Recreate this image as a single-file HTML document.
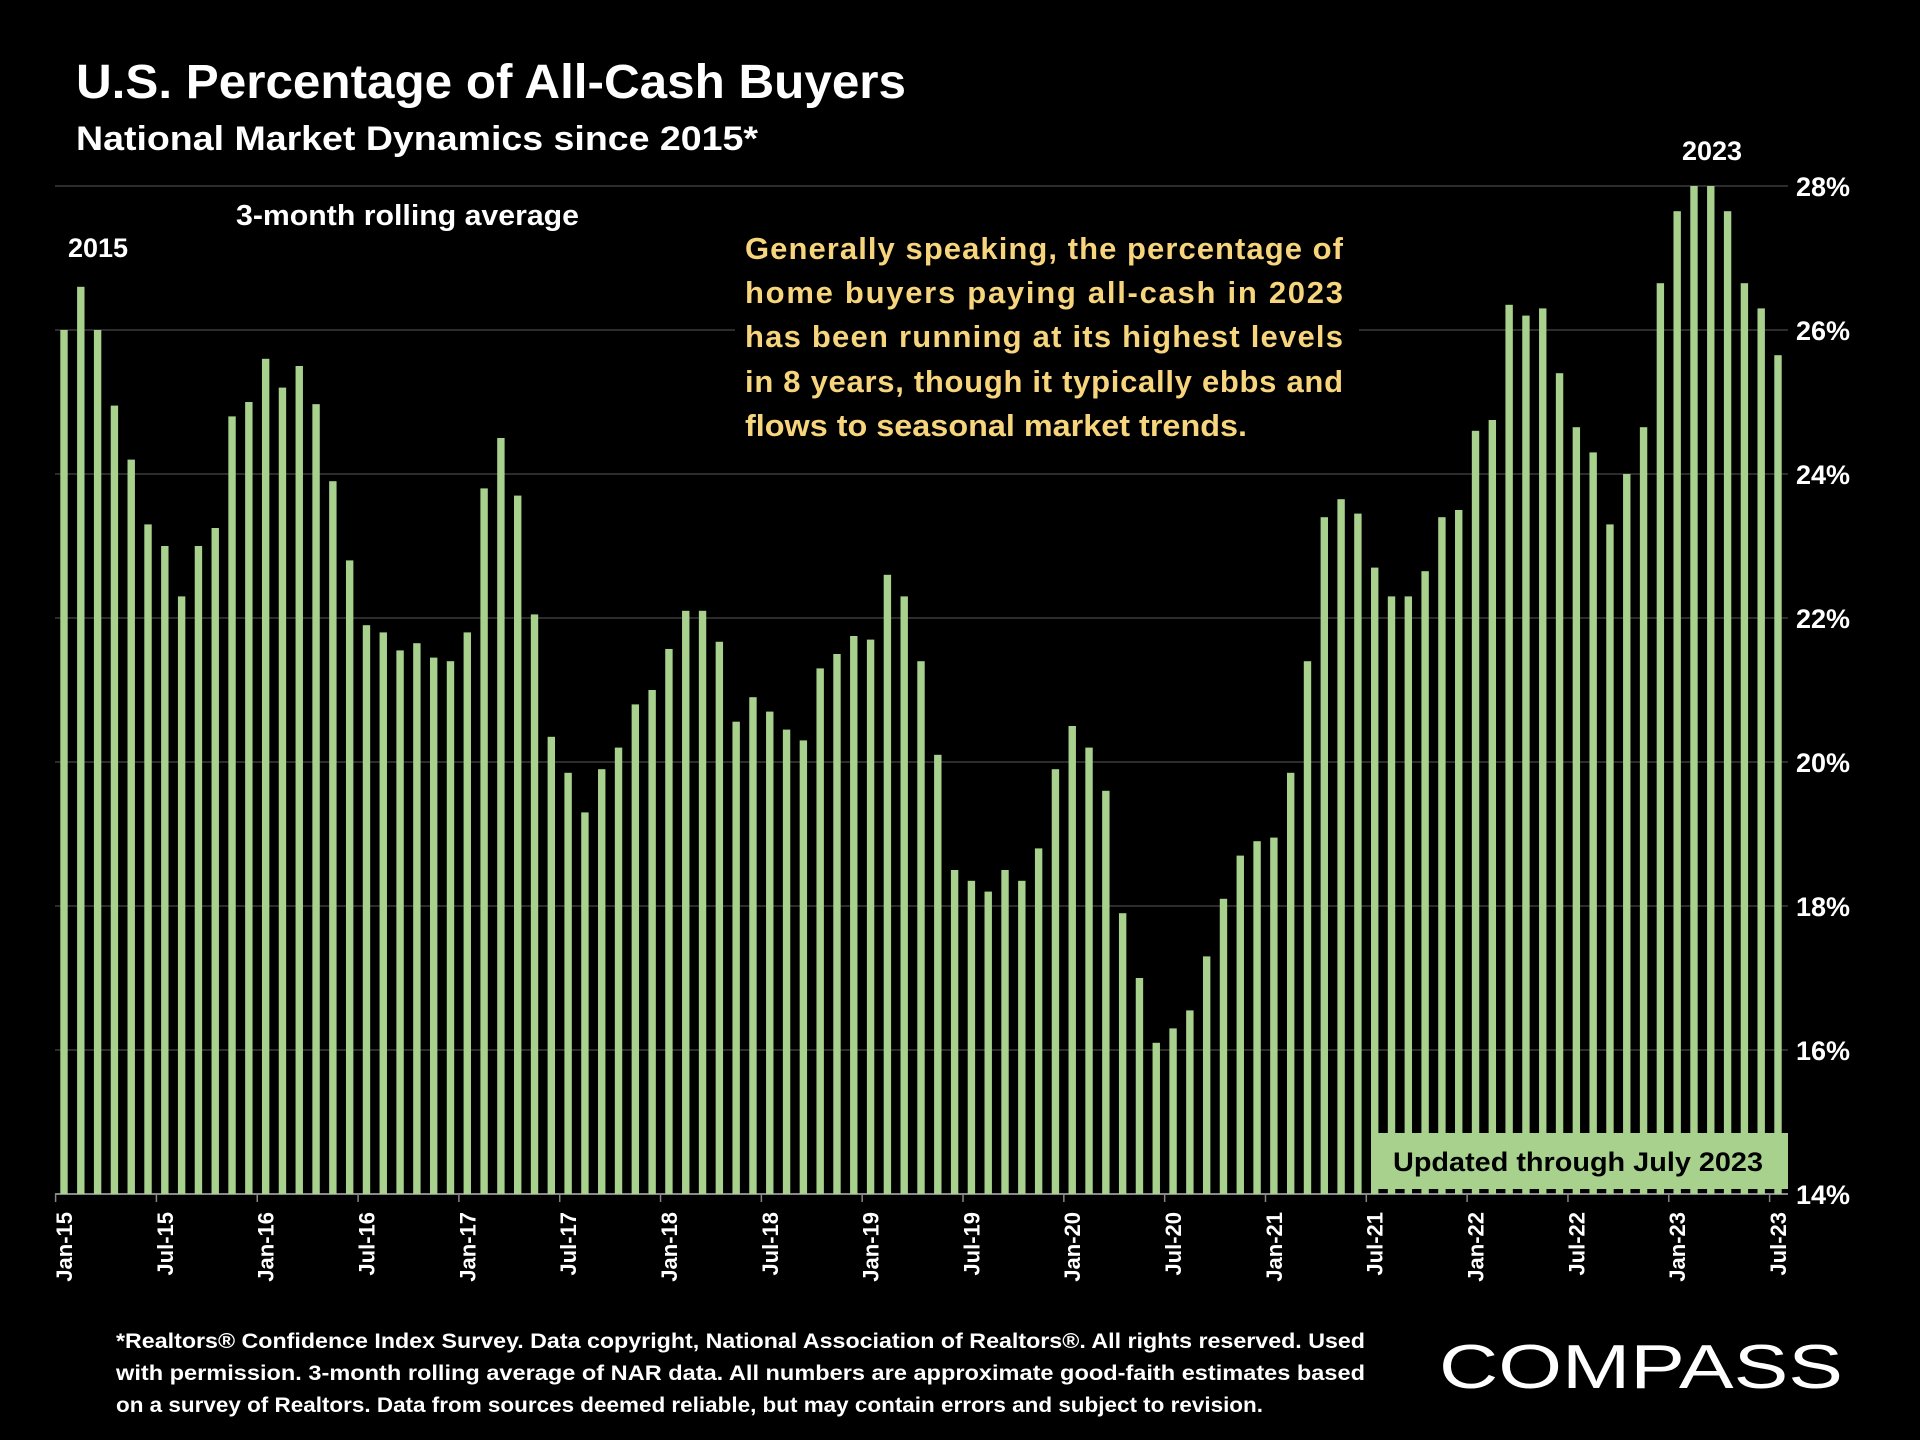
<!DOCTYPE html>
<html><head><meta charset="utf-8"><style>
html,body{margin:0;padding:0;background:#000;}
svg{display:block;font-family:"Liberation Sans",sans-serif;}
</style></head><body>
<svg id="chart" width="1920" height="1440" viewBox="0 0 1920 1440">
<rect width="1920" height="1440" fill="#000"/>
<text x="76" y="98" fill="#fff" font-size="48" font-weight="bold" textLength="830" lengthAdjust="spacingAndGlyphs">U.S. Percentage of All-Cash Buyers</text>
<text x="76" y="150" fill="#fff" font-size="34" font-weight="bold" textLength="682" lengthAdjust="spacingAndGlyphs">National Market Dynamics since 2015*</text>
<g id="grid"></g>
<g id="bars"></g>
<g id="yticks"></g>
<g id="xticks"></g>
<rect x="735" y="226" width="624" height="228" fill="#000"/>
<g fill="#f7d57c" font-size="31" font-weight="bold">
<text x="745" y="259" textLength="598" lengthAdjust="spacing">Generally speaking, the percentage of</text>
<text x="745" y="303" textLength="598" lengthAdjust="spacing">home buyers paying all-cash in 2023</text>
<text x="745" y="347" textLength="598" lengthAdjust="spacing">has been running at its highest levels</text>
<text x="745" y="392" textLength="598" lengthAdjust="spacing">in 8 years, though it typically ebbs and</text>
<text x="745" y="436" textLength="502" lengthAdjust="spacingAndGlyphs">flows to seasonal market trends.</text>
</g>
<text x="236" y="225" fill="#fff" font-size="29" font-weight="bold" textLength="343" lengthAdjust="spacingAndGlyphs">3-month rolling average</text>
<text x="98" y="257" fill="#fff" font-size="27" font-weight="bold" text-anchor="middle">2015</text>
<text x="1712" y="160" fill="#fff" font-size="27" font-weight="bold" text-anchor="middle">2023</text>
<rect x="1371" y="1133" width="417" height="56" fill="#a9d18e"/>
<text x="1578" y="1171" fill="#000" font-size="27" font-weight="bold" text-anchor="middle" textLength="370" lengthAdjust="spacingAndGlyphs">Updated through July 2023</text>
<g fill="#fff" font-size="21" font-weight="bold">
<text x="116" y="1348" textLength="1249" lengthAdjust="spacingAndGlyphs">*Realtors® Confidence Index Survey. Data copyright, National Association of Realtors®. All rights reserved. Used</text>
<text x="116" y="1380" textLength="1249" lengthAdjust="spacingAndGlyphs">with permission. 3-month rolling average of NAR data. All numbers are approximate good-faith estimates based</text>
<text x="116" y="1412" textLength="1147" lengthAdjust="spacingAndGlyphs">on a survey of Realtors. Data from sources deemed reliable, but may contain errors and subject to revision.</text>
</g>
<text x="1439" y="1388" fill="#fff" font-size="62" textLength="404" lengthAdjust="spacingAndGlyphs">COMPASS</text>
</svg>
<script>
const months = [];
const yearsShort = ['15','16','17','18','19','20','21','22','23'];
const monthNames = ['Jan','Feb','Mar','Apr','May','Jun','Jul','Aug','Sep','Oct','Nov','Dec'];
const values = [
26.0,26.6,26.0,24.95,24.2,23.3,23.0,22.3,23.0,23.25,24.8,25.0,
25.6,25.2,25.5,24.97,23.9,22.8,21.9,21.8,21.55,21.65,21.45,21.4,
21.8,23.8,24.5,23.7,22.05,20.35,19.85,19.3,19.9,20.2,20.8,21.0,
21.57,22.1,22.1,21.67,20.56,20.9,20.7,20.45,20.3,21.3,21.5,21.75,
21.7,22.6,22.3,21.4,20.1,18.5,18.35,18.2,18.5,18.35,18.8,19.9,
20.5,20.2,19.6,17.9,17.0,16.1,16.3,16.55,17.3,18.1,18.7,18.9,
18.95,19.85,21.4,23.4,23.65,23.45,22.7,22.3,22.3,22.65,23.4,23.5,
24.6,24.75,26.35,26.2,26.3,25.4,24.65,24.3,23.3,24.0,24.65,26.65,
27.65,28.0,28.0,27.65,26.65,26.3,25.65];
const yTicks = [14,16,18,20,22,24,26,28];
for (let i = 0; i < values.length; i++) months.push(monthNames[i % 12] + '-' + yearsShort[Math.floor(i / 12)]);

const NS = 'http://www.w3.org/2000/svg';
const x0 = 64, x1 = 1778, yMin = 14, yMax = 28, py0 = 1194, py1 = 186;
const step = (x1 - x0) / (values.length - 1);
const xScale = i => x0 + step * i;
const yScale = v => py0 - (v - yMin) / (yMax - yMin) * (py0 - py1);
function mk(tag, attrs, parent) { const e = document.createElementNS(NS, tag); for (const k in attrs) e.setAttribute(k, attrs[k]); parent.appendChild(e); return e; }

const grid = document.getElementById('grid');
const yt = document.getElementById('yticks');
yTicks.forEach(t => {
  const y = yScale(t);
  const l = mk('line', {x1: 55, x2: 1788, y1: y, y2: y, stroke: t === 14 ? '#888' : '#3a3a3a', 'stroke-width': t === 14 ? 2 : 1.5}, grid);
  
  
  const tx = mk('text', {x: 1796, y: y + 10, fill: '#fff', 'font-size': 27, 'font-weight': 'bold'}, yt);
  tx.textContent = t + '%';
  
  
});

const bars = document.getElementById('bars');
const xt = document.getElementById('xticks');
values.forEach((v, i) => {
  const cx = xScale(i), y = yScale(v);
  const r = mk('rect', {x: cx - 3.7, y: y, width: 7.4, height: py0 - y, fill: '#a9d18e'}, bars);
  
  
  if (i % 6 === 0) {
    const tk = mk('line', {x1: cx - step / 2, x2: cx - step / 2, y1: py0, y2: py0 + 8, stroke: '#888', 'stroke-width': 1.5}, xt);
    
    
    const t = mk('text', {x: 0, y: 0, fill: '#fff', 'font-size': 22, 'font-weight': 'bold', 'text-anchor': 'end', transform: 'translate(' + (cx + 8) + ',1212) rotate(-90)'}, xt);
    t.textContent = months[i];
    
    
  }
});
</script>
</body></html>
